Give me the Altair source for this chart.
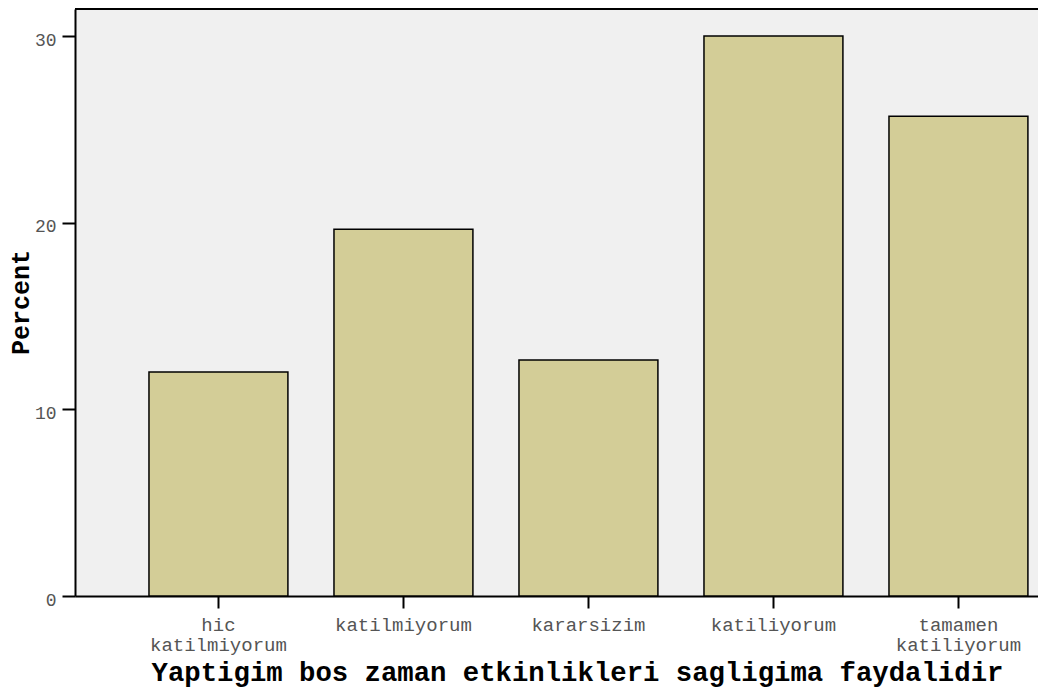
import altair as alt
import pandas as pd

categories = ["hic katilmiyorum", "katilmiyorum", "kararsizim", "katiliyorum", "tamamen katiliyorum"]
values = [12.0, 19.65, 12.65, 30.0, 25.7]
y_ticks = [0, 10, 20, 30]

df = pd.DataFrame({"cat": categories, "pct": values})

W, H = 963, 587
FONT = "Liberation Mono"

bars = alt.Chart(df).mark_bar(
    color="#d3cd97", stroke="#000000", strokeWidth=1.5
).encode(
    x=alt.X("cat:N", sort=categories,
            scale=alt.Scale(paddingInner=0.249, paddingOuter=0.2272, align=0.88),
            axis=alt.Axis(
                title="Yaptigim bos zaman etkinlikleri sagligima faydalidir",
                labelAngle=0,
                labelExpr="split(datum.label, ' ')",
                labelFont=FONT, labelFontSize=19, labelColor="#555555",
                labelLineHeight=20, labelPadding=7,
                tickSize=12, tickWidth=2, tickColor="#000000",
                domainColor="#000000", domainWidth=2,
                titleFont=FONT, titleFontSize=27.3, titleFontWeight="bold",
                titleColor="#000000", titleX=502, titleY=84,
                titleBaseline="alphabetic", titleAlign="center",
            )),
    y=alt.Y("pct:Q",
            scale=alt.Scale(domain=[0, 31.45], nice=False, zero=True),
            axis=alt.Axis(
                title="Percent", values=y_ticks, grid=False,
                labelFont=FONT, labelFontSize=18, labelColor="#555555",
                labelPadding=6, labelOffset=4,
                tickSize=13, tickWidth=2, tickColor="#000000",
                domainColor="#000000", domainWidth=2,
                titleFont=FONT, titleFontSize=25, titleFontWeight="bold",
                titleColor="#000000", titleAngle=270, titleX=-55, titleY=293,
                titleBaseline="middle", titleAlign="center",
            )),
)

top_line = alt.Chart(df).mark_rule(color="#000000", strokeWidth=1.5).encode(
    x=alt.value(0), x2=alt.value(W), y=alt.value(0)
)

chart = alt.layer(bars, top_line).properties(
    width=W, height=H,
    background="#ffffff",
    autosize=alt.AutoSizeParams(type="none"),
    padding={"left": 67, "top": 1, "right": 0, "bottom": 93},
).configure_view(
    fill="#f0f0f0", stroke=None
)

chart.save("out.html", embed_options={"renderer": "svg", "actions": False})
